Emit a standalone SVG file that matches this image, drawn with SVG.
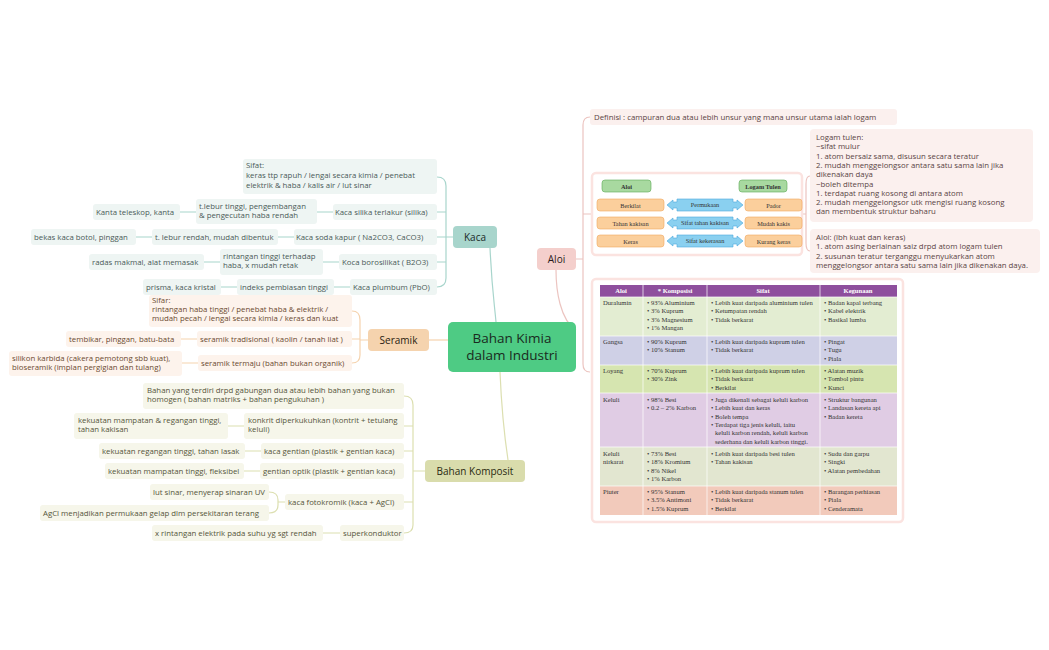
<svg xmlns="http://www.w3.org/2000/svg" width="1049" height="650" viewBox="0 0 1049 650">
<style>
text{font-family:"Open Sans","DejaVu Sans",sans-serif;font-size:7.8px;}
.k rect{fill:#eef5f3}.k text{fill:#4a5a58}
.s rect{fill:#fdf3ec}.s text{fill:#6b4a30}
.c rect{fill:#f6f6ea}.c text{fill:#55553a}
.a rect{fill:#fbf0ee}.a text{fill:#5a4444}
.t text{font-family:"Liberation Serif",serif;font-size:6.6px;fill:#333}
.t .h{fill:#fff;font-weight:bold}
.ob{fill:#fbcf9c;stroke:#f0a860;stroke-width:0.6}
.gb{fill:#a8d9a0;stroke:#5caa55;stroke-width:0.6}
.bb{fill:#8ad0f0;stroke:#4aa8dd;stroke-width:0.6}
.ser{font-family:"Liberation Serif",serif;font-size:6.3px;fill:#333;text-anchor:middle}
.lk{stroke:#a8d5cc;fill:none;stroke-width:1.2}
.ls{stroke:#f5d3ae;fill:none;stroke-width:1.2}
.lc{stroke:#dcdfb0;fill:none;stroke-width:1.2}
.la{stroke:#ecc4c0;fill:none;stroke-width:1.2}
</style>
<rect width="1049" height="650" fill="#fff"/>
<g id="connectors">
<path class="lk" d="M490,248 C492,290 494,300 496,322"/>
<path class="ls" d="M429,340 L448,340"/>
<path class="lc" d="M500,372 C502,420 505,440 508,460"/>
<path class="la" d="M576,330 C560,320 556,290 556,270"/>
<path class="lk" d="M453,237 L446,237 M437,177 Q446,177 446,186 L446,278 Q446,287 437,287 M437,212 L446,212 M437,237 L446,237 M437,262 L446,262"/>
<path class="lk" d="M317,212 L333,212 M180,212 L196,212 M278,237 L294,237 M136,237 L152,237 M323,262 L339,262 M204,262 L220,262 M334,287 L350,287 M221,287 L237,287"/>
<path class="ls" d="M368,340 L360,340 M352,311 Q360,311 360,320 L360,355 Q360,363 352,363 M352,339 L360,339 M181,339 L197,339 M182,363 L198,363"/>
<path class="lc" d="M425,471 L413,471 M404,396 Q413,396 413,405 L413,525 Q413,533 404,533 M404,426 L413,426 M404,451 L413,451 M404,502 L413,502 M228,426 L244,426 M245,451 L261,451 M244,471 L260,471 M323,533 L340,533 M285,502 L278,502 M269,492 Q278,492 278,500 L278,505 Q278,513 269,513"/>
<path class="la" d="M537,259 L583,259 M590,117 Q583,117 583,125 L583,364 Q583,372 590,372 M583,214 L592,214"/>
<path class="la" d="M802,214 L806,214 M810,176 Q806,176 806,184 L806,243 Q806,251 810,251"/>
</g>
<g id="center"><rect x="448" y="322" width="128" height="50" rx="5" fill="#4ecb84"/><text x="512" y="343" text-anchor="middle" style="font-size:13.5px;fill:#1a2a20">Bahan Kimia</text><text x="512" y="360" text-anchor="middle" style="font-size:13.5px;fill:#1a2a20">dalam Industri</text></g>
<g id="kaca"><rect x="453" y="226" width="44" height="22" rx="4" fill="#a8d5cc"/><text x="475" y="241" text-anchor="middle" style="font-size:10px;fill:#1a2a28">Kaca</text></g>
<g id="seramik"><rect x="368" y="329" width="61" height="22" rx="4" fill="#f5d3ae"/><text x="398.5" y="344" text-anchor="middle" style="font-size:10px;fill:#2a1a10">Seramik</text></g>
<g id="komposit"><rect x="425" y="460" width="100" height="22" rx="4" fill="#d9dcac"/><text x="475" y="475" text-anchor="middle" style="font-size:10px;fill:#2a2a10">Bahan Komposit</text></g>
<g id="aloi"><rect x="537" y="248" width="39" height="22" rx="4" fill="#f4cfcc"/><text x="556.5" y="263" text-anchor="middle" style="font-size:10px;fill:#2a1a1a">Aloi</text></g>
<g id="kaca-children" class="k">
<rect x="243" y="159" width="194" height="35" rx="3"/><text x="246" y="168">Sifat:</text><text x="246" y="178">keras ttp rapuh / lengai secara kimia / penebat</text><text x="246" y="188">elektrik &amp; haba / kalis air / lut sinar</text>
<rect x="333" y="204" width="104" height="16" rx="3"/><text x="335" y="215">Kaca silika terlakur (silika)</text>
<rect x="196" y="199" width="121" height="25" rx="3"/><text x="199" y="209">t.lebur tinggi, pengembangan</text><text x="199" y="218">&amp; pengecutan haba rendah</text>
<rect x="93" y="204" width="87" height="16" rx="3"/><text x="96" y="215">Kanta teleskop, kanta</text>
<rect x="294" y="229" width="143" height="16" rx="3"/><text x="296" y="240">Kaca soda kapur ( Na2CO3, CaCO3)</text>
<rect x="152" y="229" width="126" height="16" rx="3"/><text x="155" y="240">t. lebur rendah, mudah dibentuk</text>
<rect x="31" y="229" width="105" height="16" rx="3"/><text x="34" y="240">bekas kaca botol, pinggan</text>
<rect x="339" y="254" width="98" height="16" rx="3"/><text x="342" y="265">Koca borosilikat ( B2O3)</text>
<rect x="220" y="249" width="103" height="26" rx="3"/><text x="223" y="259">rintangan tinggi terhadap</text><text x="223" y="268">haba, x mudah retak</text>
<rect x="89" y="254" width="115" height="16" rx="3"/><text x="92" y="265">radas makmal, alat memasak</text>
<rect x="350" y="279" width="87" height="16" rx="3"/><text x="353" y="290">Kaca plumbum (PbO)</text>
<rect x="237" y="279" width="97" height="16" rx="3"/><text x="240" y="290">indeks pembiasan tinggi</text>
<rect x="143" y="279" width="78" height="16" rx="3"/><text x="146" y="290">prisma, kaca kristal</text>
</g>
<g id="seramik-children" class="s">
<rect x="149" y="295" width="203" height="32" rx="3"/><text x="152" y="303">Sifar:</text><text x="152" y="312">rintangan haba tinggi / penebat haba &amp; elektrik /</text><text x="152" y="321">mudah pecah / lengai secara kimia / keras dan kuat</text>
<rect x="197" y="331" width="155" height="16" rx="3"/><text x="200" y="342">seramik tradisional ( kaolin / tanah liat )</text>
<rect x="66" y="331" width="115" height="16" rx="3"/><text x="69" y="342">tembikar, pinggan, batu-bata</text>
<rect x="198" y="355" width="154" height="16" rx="3"/><text x="201" y="366">seramik termaju (bahan bukan organik)</text>
<rect x="9" y="351" width="173" height="25" rx="3"/><text x="12" y="361">silikon karbida (cakera pemotong sbb kuat),</text><text x="12" y="370">bioseramik (implan pergigian dan tulang)</text>
</g>
<g id="komposit-children" class="c">
<rect x="143" y="383" width="261" height="26" rx="3"/><text x="147" y="393">Bahan yang terdiri drpd gabungan dua atau lebih bahan yang bukan</text><text x="147" y="402">homogen ( bahan matriks + bahan pengukuhan )</text>
<rect x="244" y="413" width="160" height="26" rx="3"/><text x="248" y="423">konkrit diperkukuhkan (kontrit + tetulang</text><text x="248" y="432">keluli)</text>
<rect x="74" y="413" width="154" height="26" rx="3"/><text x="78" y="423">kekuatan mampatan &amp; regangan tinggi,</text><text x="78" y="432">tahan kakisan</text>
<rect x="261" y="443" width="143" height="16" rx="3"/><text x="264" y="454">kaca gentian (plastik + gentian kaca)</text>
<rect x="99" y="443" width="146" height="16" rx="3"/><text x="102" y="454">kekuatan regangan tinggi, tahan lasak</text>
<rect x="260" y="463" width="144" height="16" rx="3"/><text x="263" y="474">gentian optik (plastik + gentian kaca)</text>
<rect x="105" y="463" width="139" height="16" rx="3"/><text x="108" y="474">kekuatan mampatan tinggi, fleksibel</text>
<rect x="285" y="494" width="119" height="16" rx="3"/><text x="288" y="505">kaca fotokromik (kaca + AgCl)</text>
<rect x="150" y="484" width="119" height="16" rx="3"/><text x="153" y="495">lut sinar, menyerap sinaran UV</text>
<rect x="40" y="505" width="229" height="16" rx="3"/><text x="43" y="516">AgCl menjadikan permukaan gelap dlm persekitaran terang</text>
<rect x="340" y="525" width="64" height="16" rx="3"/><text x="343" y="536">superkonduktor</text>
<rect x="152" y="525" width="171" height="16" rx="3"/><text x="155" y="536">x rintangan elektrik pada suhu yg sgt rendah</text>
</g>
<g id="aloi-children" class="a">
<rect x="590" y="109" width="307" height="16" rx="3"/><text x="594" y="120">Definisi : campuran dua atau lebih unsur yang mana unsur utama ialah logam</text>
<rect x="810" y="129" width="223" height="93" rx="4"/>
<text x="816" y="140">Logam tulen:</text><text x="816" y="149.3">−sifat mulur</text><text x="816" y="158.6">1. atom bersaiz sama, disusun secara teratur</text><text x="816" y="167.9">2. mudah menggelongsor antara satu sama lain jika</text><text x="816" y="177.2">dikenakan daya</text><text x="816" y="186.5">−boleh ditempa</text><text x="816" y="195.8">1. terdapat ruang kosong di antara atom</text><text x="816" y="205.1">2. mudah menggelongsor utk mengisi ruang kosong</text><text x="816" y="214.4">dan membentuk struktur baharu</text>
<rect x="810" y="229" width="230" height="44" rx="4"/>
<text x="816" y="240">Aloi: (lbh kuat dan keras)</text><text x="816" y="249.3">1. atom asing berlainan saiz drpd atom logam tulen</text><text x="816" y="258.6">2. susunan teratur terganggu menyukarkan atom</text><text x="816" y="267.9">menggelongsor antara satu sama lain jika dikenakan daya.</text>
</g>
<g id="aloi-compare">
<rect x="592" y="173" width="210" height="82" rx="4" fill="#fff" stroke="#fbe3e0" stroke-width="2.5"/>
<rect class="gb" x="602" y="180" width="49" height="12" rx="3"/><text class="ser" x="626.5" y="188.5" font-weight="bold">Aloi</text>
<rect class="gb" x="739" y="180" width="48" height="12" rx="3"/><text class="ser" x="763" y="188.5" font-weight="bold">Logam Tulen</text>
<rect class="ob" x="597" y="199" width="67" height="12" rx="3"/><text class="ser" x="630.5" y="207.5">Berkilat</text>
<rect class="ob" x="745" y="199" width="57" height="12" rx="3"/><text class="ser" x="773.5" y="207.5">Pador</text>
<path class="bb" d="M667,205 l6,-5 v2 h4 v-3 h56 v3 h4 v-2 l6,5 -6,5 v-2 h-4 v3 h-56 v-3 h-4 v2z"/><text class="ser" x="705" y="207">Permukaan</text>
<rect class="ob" x="597" y="217" width="67" height="12" rx="3"/><text class="ser" x="630.5" y="225.5">Tahan kakisan</text>
<rect class="ob" x="745" y="217" width="57" height="12" rx="3"/><text class="ser" x="773.5" y="225.5">Mudah kakis</text>
<path class="bb" d="M667,223 l6,-5 v2 h4 v-3 h56 v3 h4 v-2 l6,5 -6,5 v-2 h-4 v3 h-56 v-3 h-4 v2z"/><text class="ser" x="705" y="225">Sifat tahan kakisan</text>
<rect class="ob" x="597" y="235" width="67" height="12" rx="3"/><text class="ser" x="630.5" y="243.5">Keras</text>
<rect class="ob" x="745" y="235" width="57" height="12" rx="3"/><text class="ser" x="773.5" y="243.5">Kurang keras</text>
<path class="bb" d="M667,241 l6,-5 v2 h4 v-3 h56 v3 h4 v-2 l6,5 -6,5 v-2 h-4 v3 h-56 v-3 h-4 v2z"/><text class="ser" x="705" y="243">Sifat kekerasan</text>
</g>
<g id="aloi-table" class="t">
<rect x="592" y="279" width="311" height="243" rx="4" fill="#fff" stroke="#fbe3e0" stroke-width="2.5"/>
<rect x="600" y="285" width="297" height="230" rx="3" fill="#888"/>
<rect x="600" y="285" width="297" height="12" fill="#8e4f9d"/>
<rect x="600" y="297" width="297" height="39" fill="#e3edd2"/>
<rect x="600" y="336" width="297" height="29" fill="#cfd0e6"/>
<rect x="600" y="365" width="297" height="28" fill="#d6e5b0"/>
<rect x="600" y="393" width="297" height="54" fill="#e0cce4"/>
<rect x="600" y="447" width="297" height="39" fill="#e2e6d0"/>
<rect x="600" y="486" width="297" height="29" fill="#f2cabb"/>
<path d="M643,285V515M707,285V515M820,285V515M600,336H897M600,365H897M600,393H897M600,447H897M600,486H897M600,297H897" stroke="#fff" stroke-width="0.7"/>
<text class="h" x="621" y="293" text-anchor="middle">Aloi</text><text class="h" x="675" y="293" text-anchor="middle">* Komposisi</text><text class="h" x="763" y="293" text-anchor="middle">Sifat</text><text class="h" x="858" y="293" text-anchor="middle">Kegunaan</text>
<text x="603" y="305">Duralumin</text>
<text x="647" y="305">• 93% Aluminium</text><text x="647" y="313.3">• 3% Kuprum</text><text x="647" y="321.6">• 3% Magnesium</text><text x="647" y="329.9">• 1% Mangan</text>
<text x="711" y="305">• Lebih kuat daripada aluminium tulen</text><text x="711" y="313.3">• Ketumpatan rendah</text><text x="711" y="321.6">• Tidak berkarat</text>
<text x="824" y="305">• Badan kapal terbang</text><text x="824" y="313.3">• Kabel elektrik</text><text x="824" y="321.6">• Basikal lumba</text>
<text x="603" y="344">Gangsa</text>
<text x="647" y="344">• 90% Kuprum</text><text x="647" y="352.3">• 10% Stanum</text>
<text x="711" y="344">• Lebih kuat daripada kuprum tulen</text><text x="711" y="352.3">• Tidak berkarat</text>
<text x="824" y="344">• Pingat</text><text x="824" y="352.3">• Tugu</text><text x="824" y="360.6">• Piala</text>
<text x="603" y="373">Loyang</text>
<text x="647" y="373">• 70% Kuprum</text><text x="647" y="381.3">• 30% Zink</text>
<text x="711" y="373">• Lebih kuat daripada kuprum tulen</text><text x="711" y="381.3">• Tidak berkarat</text><text x="711" y="389.6">• Berkilat</text>
<text x="824" y="373">• Alatan muzik</text><text x="824" y="381.3">• Tombol pintu</text><text x="824" y="389.6">• Kunci</text>
<text x="603" y="402">Keluli</text>
<text x="647" y="402">• 98% Besi</text><text x="647" y="410.3">• 0.2 – 2% Karbon</text>
<text x="711" y="402">• Juga dikenali sebagai keluli karbon</text><text x="711" y="410.3">• Lebih kuat dan keras</text><text x="711" y="418.6">• Boleh tempa</text><text x="711" y="426.9">• Terdapat tiga jenis keluli, iaitu</text><text x="715" y="435.2">keluli karbon rendah, keluli karbon</text><text x="715" y="443.5">sederhana dan keluli karbon tinggi.</text>
<text x="824" y="402">• Struktur bangunan</text><text x="824" y="410.3">• Landasan kereta api</text><text x="824" y="418.6">• Badan kereta</text>
<text x="603" y="456">Keluli</text><text x="603" y="464.3">nirkarat</text>
<text x="647" y="456">• 73% Besi</text><text x="647" y="464.3">• 18% Kromium</text><text x="647" y="472.6">• 8% Nikel</text><text x="647" y="480.9">• 1% Karbon</text>
<text x="711" y="456">• Lebih kuat daripada besi tulen</text><text x="711" y="464.3">• Tahan kakisan</text>
<text x="824" y="456">• Sudu dan garpu</text><text x="824" y="464.3">• Singki</text><text x="824" y="472.6">• Alatan pembedahan</text>
<text x="603" y="494">Piuter</text>
<text x="647" y="494">• 95% Stanum</text><text x="647" y="502.3">• 3.5% Antimoni</text><text x="647" y="510.6">• 1.5% Kuprum</text>
<text x="711" y="494">• Lebih kuat daripada stanum tulen</text><text x="711" y="502.3">• Tidak berkarat</text><text x="711" y="510.6">• Berkilat</text>
<text x="824" y="494">• Barangan perhiasan</text><text x="824" y="502.3">• Piala</text><text x="824" y="510.6">• Cenderamata</text>
</g>
</svg>
